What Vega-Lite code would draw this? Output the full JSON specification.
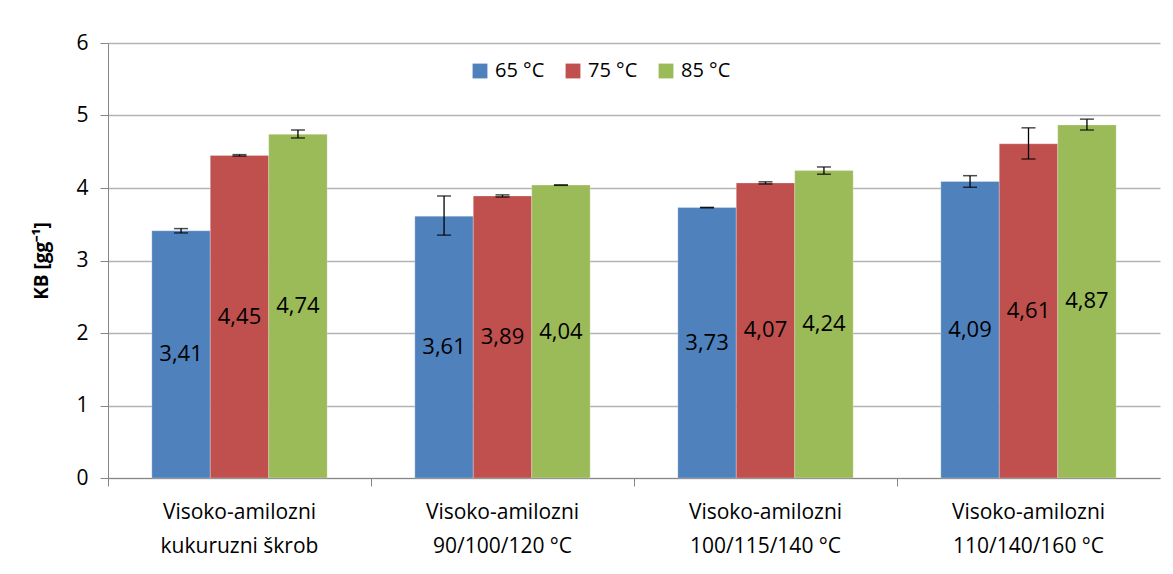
{
  "$schema": "https://vega.github.io/schema/vega-lite/v6.json",
  "width": 1052,
  "height": 435,
  "autosize": {"type": "none"},
  "padding": {"left": 108, "top": 43, "right": 13, "bottom": 96},
  "background": "white",
  "config": {
    "view": {"stroke": null},
    "font": "Open Sans",
    "axis": {"labelFont": "Open Sans", "titleFont": "Open Sans", "labelColor": "#000000", "titleColor": "#000000"},
    "legend": {"labelFont": "Open Sans", "labelColor": "#000000"}
  },
  "data": {
    "values": [
      {"group": "Visoko-amilozni|kukuruzni škrob", "temp": "65 °C", "value": 3.41, "lo": 3.38, "hi": 3.44, "label": "3,41"},
      {"group": "Visoko-amilozni|kukuruzni škrob", "temp": "75 °C", "value": 4.45, "lo": 4.44, "hi": 4.46, "label": "4,45"},
      {"group": "Visoko-amilozni|kukuruzni škrob", "temp": "85 °C", "value": 4.74, "lo": 4.69, "hi": 4.8, "label": "4,74"},
      {"group": "Visoko-amilozni|90/100/120 °C", "temp": "65 °C", "value": 3.61, "lo": 3.35, "hi": 3.89, "label": "3,61"},
      {"group": "Visoko-amilozni|90/100/120 °C", "temp": "75 °C", "value": 3.89, "lo": 3.875, "hi": 3.905, "label": "3,89"},
      {"group": "Visoko-amilozni|90/100/120 °C", "temp": "85 °C", "value": 4.04, "lo": 4.037, "hi": 4.043, "label": "4,04"},
      {"group": "Visoko-amilozni|100/115/140 °C", "temp": "65 °C", "value": 3.73, "lo": 3.727, "hi": 3.733, "label": "3,73"},
      {"group": "Visoko-amilozni|100/115/140 °C", "temp": "75 °C", "value": 4.07, "lo": 4.055, "hi": 4.085, "label": "4,07"},
      {"group": "Visoko-amilozni|100/115/140 °C", "temp": "85 °C", "value": 4.24, "lo": 4.19, "hi": 4.29, "label": "4,24"},
      {"group": "Visoko-amilozni|110/140/160 °C", "temp": "65 °C", "value": 4.09, "lo": 4.01, "hi": 4.17, "label": "4,09"},
      {"group": "Visoko-amilozni|110/140/160 °C", "temp": "75 °C", "value": 4.61, "lo": 4.4, "hi": 4.83, "label": "4,61"},
      {"group": "Visoko-amilozni|110/140/160 °C", "temp": "85 °C", "value": 4.87, "lo": 4.8, "hi": 4.95, "label": "4,87"}
    ]
  },
  "encoding": {
    "x": {
      "field": "group", "type": "nominal", "sort": null,
      "scale": {"paddingInner": 0, "paddingOuter": 0},
      "axis": {
        "title": null, "labelAngle": 0, "labelExpr": "split(datum.value, '|')",
        "labelFontSize": 21, "labelLineHeight": 34, "labelPadding": 15,
        "bandPosition": 0, "tickSize": 8, "tickColor": "#868686", "domainColor": "#868686",
        "grid": false
      }
    },
    "xOffset": {"field": "temp", "type": "nominal", "scale": {"paddingInner": 0, "paddingOuter": 0.75}},
    "color": {
      "field": "temp", "type": "nominal",
      "scale": {"domain": ["65 °C", "75 °C", "85 °C"], "range": ["#4f81bd", "#c0504d", "#9bbb59"]},
      "legend": {
        "title": null, "orient": "none", "direction": "horizontal",
        "legendX": 362, "legendY": 18, "symbolType": "square", "symbolSize": 220,
        "symbolStrokeWidth": 0, "labelFontSize": 20, "columnPadding": 18, "labelOffset": 5
      }
    }
  },
  "layer": [
    {
      "mark": {"type": "bar", "stroke": "white", "strokeWidth": 0.5, "strokeOpacity": 0.5},
      "encoding": {
        "y": {
          "field": "value", "type": "quantitative",
          "scale": {"domain": [0, 6], "nice": false},
          "axis": {
            "title": "KB [gg⁻¹]", "titleFontSize": 19, "titleFontWeight": "bold", "titlePadding": 24,
            "values": [0, 1, 2, 3, 4, 5, 6], "format": "d", "labelFontSize": 21, "labelPadding": 12,
            "tickSize": 8, "tickColor": "#868686", "domainColor": "#868686",
            "gridColor": "#b3b3b3", "gridWidth": 1.5
          }
        }
      }
    },
    {
      "mark": {"type": "rule", "color": "#000000", "strokeWidth": 1.3},
      "encoding": {
        "y": {"field": "lo", "type": "quantitative"},
        "y2": {"field": "hi"},
        "color": {"value": "#000000"}
      }
    },
    {
      "mark": {"type": "tick", "color": "#000000", "orient": "horizontal", "size": 14, "thickness": 1.5},
      "encoding": {"y": {"field": "lo", "type": "quantitative"}, "color": {"value": "#000000"}}
    },
    {
      "mark": {"type": "tick", "color": "#000000", "orient": "horizontal", "size": 14, "thickness": 1.5},
      "encoding": {"y": {"field": "hi", "type": "quantitative"}, "color": {"value": "#000000"}}
    },
    {
      "transform": [{"calculate": "datum.value / 2", "as": "mid"}],
      "mark": {"type": "text", "fontSize": 22, "baseline": "middle", "align": "center"},
      "encoding": {
        "y": {"field": "mid", "type": "quantitative"},
        "text": {"field": "label"},
        "color": {"value": "#000000"}
      }
    }
  ]
}
